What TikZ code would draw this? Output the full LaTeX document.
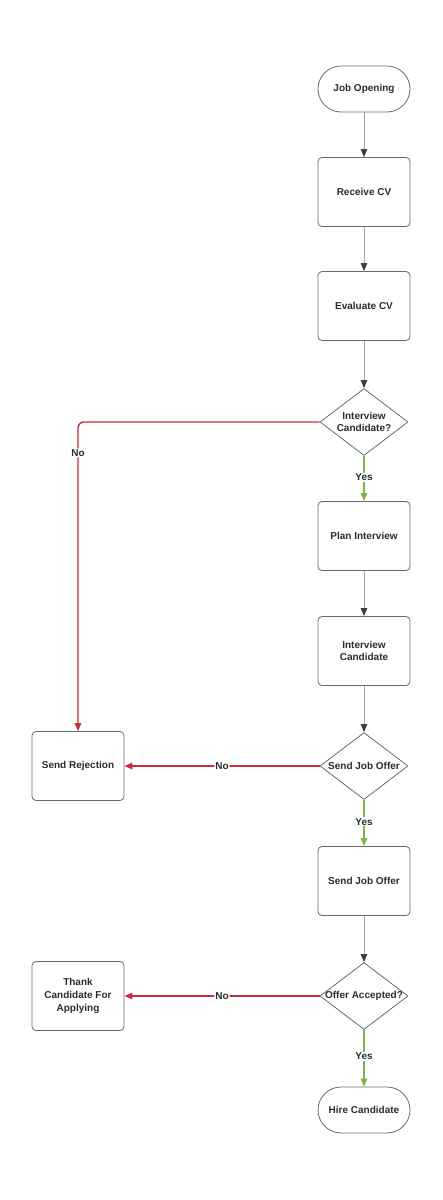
\documentclass[tikz,border=0pt]{standalone}
\usepackage{fontspec}
\setmainfont{Liberation Sans}
\usetikzlibrary{arrows.meta,shapes.geometric}
\definecolor{txtc}{HTML}{282C33}
\definecolor{bord}{HTML}{6A6A6A}
\definecolor{glin}{HTML}{A3A3A3}
\definecolor{gtip}{HTML}{3A3F4A}
\definecolor{rlin}{HTML}{C92D39}
\definecolor{glin2}{HTML}{7AB648}
\tikzset{
  x=1pt,y=-1pt,
  txt/.style={font=\fontsize{10}{12.8}\selectfont\bfseries, text=txtc, align=center},
  procbox/.style={draw=bord, line width=0.8pt, rounded corners=4pt, minimum width=92pt, minimum height=69pt, inner sep=0pt, txt},
  termbox/.style={draw=bord, line width=0.8pt, rounded corners=23pt, minimum width=92pt, minimum height=46pt, inner sep=0pt, txt},
  decbox/.style={draw=bord, line width=0.8pt, diamond, minimum width=88pt, minimum height=67pt, inner sep=0pt},
  gflow/.style={draw=glin, line width=0.9pt, -{Triangle[length=8pt,width=6.5pt,color=gtip]}},
  yflow/.style={draw=glin2, line width=1.4pt, -{Triangle[length=8pt,width=6.5pt]}},
  nflow/.style={draw=rlin, line width=1.4pt, rounded corners=6pt, -{Triangle[length=8pt,width=6.5pt]}},
  elab/.style={txt, fill=white, inner sep=1pt}
}
\begin{document}
\begin{tikzpicture}
\useasboundingbox (0,0) rectangle (442,1200);
\node[termbox] (job) at (364,89) {Job Opening};
\node[procbox] (recv) at (364,192) {Receive CV};
\node[procbox] (eval) at (364,306) {Evaluate CV};
\node[decbox] (d1) at (364,422) {};
\node[txt] (d1t) at (d1) {Interview\\Candidate?};
\node[procbox] (plan) at (364,536) {Plan Interview};
\node[procbox] (intv) at (364,651) {Interview\\Candidate};
\node[decbox] (d2) at (364,766) {};
\node[txt] (d2t) at (d2) {Send Job Offer};
\node[procbox] (rej) at (78,766) {Send Rejection};
\node[procbox] (offer) at (364,881) {Send Job Offer};
\node[decbox] (d3) at (364,996) {};
\node[txt] (d3t) at (d3) {Offer Accepted?};
\node[procbox] (thank) at (78,996) {Thank\\Candidate For\\Applying};
\node[termbox] (hire) at (364,1110) {Hire Candidate};

\draw[gflow] (job) -- (recv);
\draw[gflow] (recv) -- (eval);
\draw[gflow] (eval) -- (d1);
\draw[yflow] (d1) -- node[elab, pos=0.47] (y1) {Yes} (plan);
\draw[gflow] (plan) -- (intv);
\draw[gflow] (intv) -- (d2);
\draw[yflow] (d2) -- node[elab, pos=0.47] (y2) {Yes} (offer);
\draw[gflow] (offer) -- (d3);
\draw[yflow] (d3) -- node[elab, pos=0.47] (y3) {Yes} (hire);
\draw[nflow] (d1.west) -| node[elab, pos=0.55] (n1) {No} (rej.north);
\draw[nflow] (d2.west) -- node[elab, pos=0.5] (n2) {No} (rej.east);
\draw[nflow] (d3.west) -- node[elab, pos=0.5] (n3) {No} (thank.east);
\end{tikzpicture}
\end{document}
